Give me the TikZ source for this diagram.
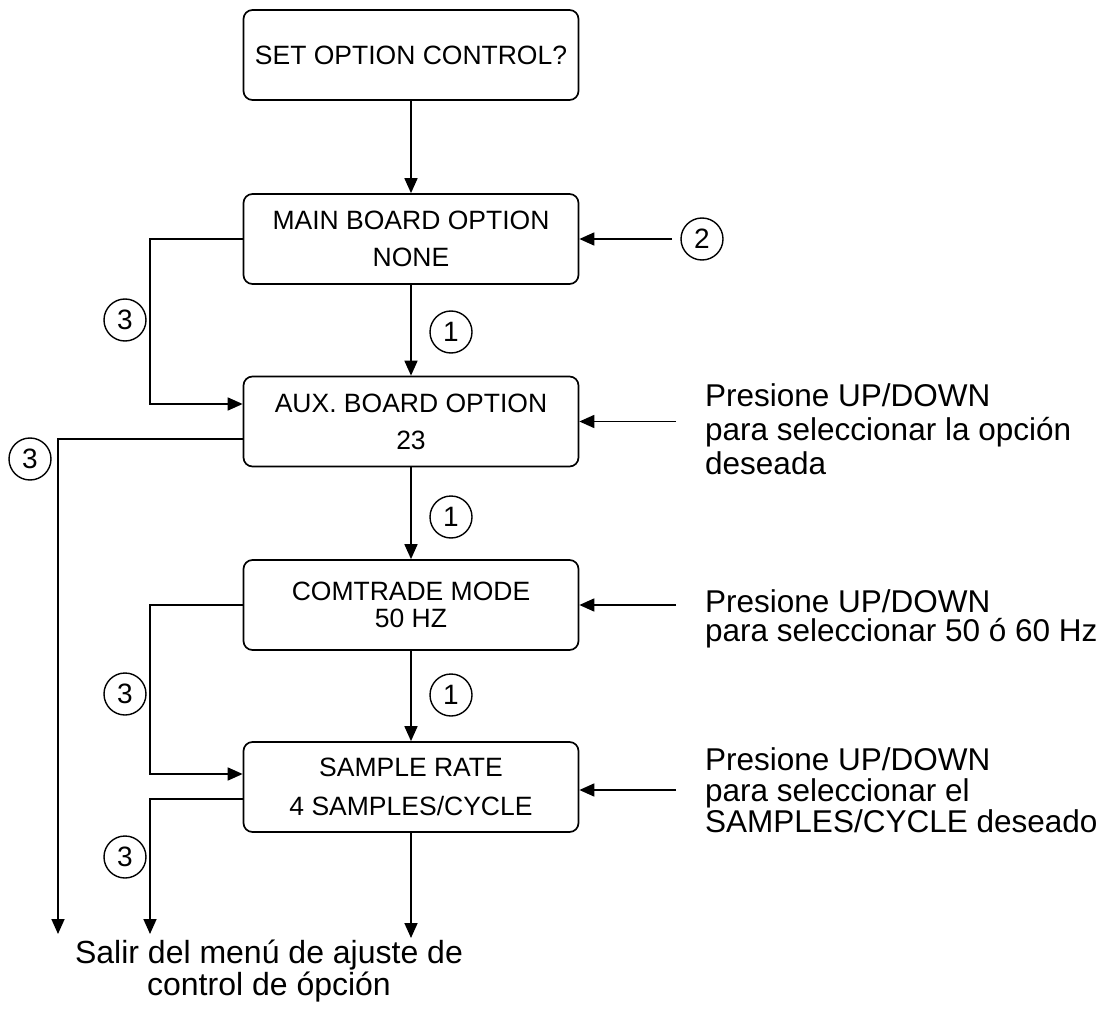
\documentclass[tikz,border=0pt]{standalone}
\usepackage{fontspec}
\setmainfont{Liberation Sans}
\usetikzlibrary{arrows.meta}
\begin{document}
\begin{tikzpicture}[x=1pt,y=-1pt,
  box/.style={draw, line width=1.7pt, rounded corners=9pt, minimum width=335pt, minimum height=90pt, align=center, font=\fontsize{26.5}{37}\selectfont, inner sep=0pt},
  num/.style={draw, circle, line width=1.4pt, minimum size=42pt, inner sep=0pt, font=\fontsize{28}{30}\selectfont},
  arr/.style={line width=1.7pt, -{Triangle[length=15pt,width=13pt]}},
  side/.style={anchor=base west, align=left, inner sep=0pt}
]
\useasboundingbox (0,0) rectangle (1106,1011);

% boxes
\node[box] (b0) at (411,55) {SET OPTION CONTROL?};
\node[box] (b1) at (411,239) {MAIN BOARD OPTION\\NONE};
\node[box] (b2) at (411,421.5) {AUX. BOARD OPTION\\23};
\node[box, font=\fontsize{26.5}{27}\selectfont] (b3) at (411,605) {COMTRADE MODE\\50 HZ};
\node[box, font=\fontsize{26.5}{39}\selectfont] (b4) at (411,787) {SAMPLE RATE\\4 SAMPLES/CYCLE};

% circled numbers
\node[num] (c2) at (702,239) {2};
\node[num] (c1a) at (451,332) {1};
\node[num] (c3a) at (125,320) {3};
\node[num] (c3b) at (30,459) {3};
\node[num] (c1b) at (451,517) {1};
\node[num] (c1c) at (451,695) {1};
\node[num] (c3c) at (125,694) {3};
\node[num] (c3d) at (125,857) {3};

% side texts (anchor = baseline of last line)
\node[side, font=\fontsize{31.5}{34}\selectfont] (t2) at (705,474) {Presione UP/DOWN\\para seleccionar la opción\\deseada};
\node[side, font=\fontsize{31.5}{28.5}\selectfont] (t3) at (705,641) {Presione UP/DOWN\\para seleccionar 50 ó 60 Hz};
\node[side, font=\fontsize{31.5}{31}\selectfont] (t4) at (705,832) {Presione UP/DOWN\\para seleccionar el\\SAMPLES/CYCLE deseado};
\node[anchor=base, align=center, inner sep=0pt, font=\fontsize{32}{29}\selectfont] (t5) at (269,995) {Salir del menú de ajuste de\\control de ópción};

% coordinates
\coordinate (r1) at (672,239);
\coordinate (r2) at (676,421.5);
\coordinate (r3) at (676,605);
\coordinate (r4) at (676,790);
\coordinate (e1) at (58,934);
\coordinate (e2) at (150,934);
\coordinate (e3) at (411,938);

% main flow
\draw[arr] (b0.south) -- (b1.north);
\draw[arr] (b1.south) -- (b2.north);
\draw[arr] (b2.south) -- (b3.north);
\draw[arr] (b3.south) -- (b4.north);
\draw[arr] (b4.south) -- (e3);

% right inputs
\draw[arr] (r1) -- (b1.east);
\draw[arr] (r2) -- (b2.east);
\draw[arr] (r3) -- (b3.east);
\draw[arr] (r4) -- (b4.east |- r4);

% left loops
\draw[arr] (b1.west) -- ++(-93,0) |- ([yshift=17.5pt]b2.west);
\draw[arr] ([yshift=-17.5pt]b2.west) -| (e1);
\draw[arr] (b3.west) -- ++(-93,0) |- ([yshift=13pt]b4.west);
\draw[arr] ([yshift=-12pt]b4.west) -| (e2);
\end{tikzpicture}
\end{document}
